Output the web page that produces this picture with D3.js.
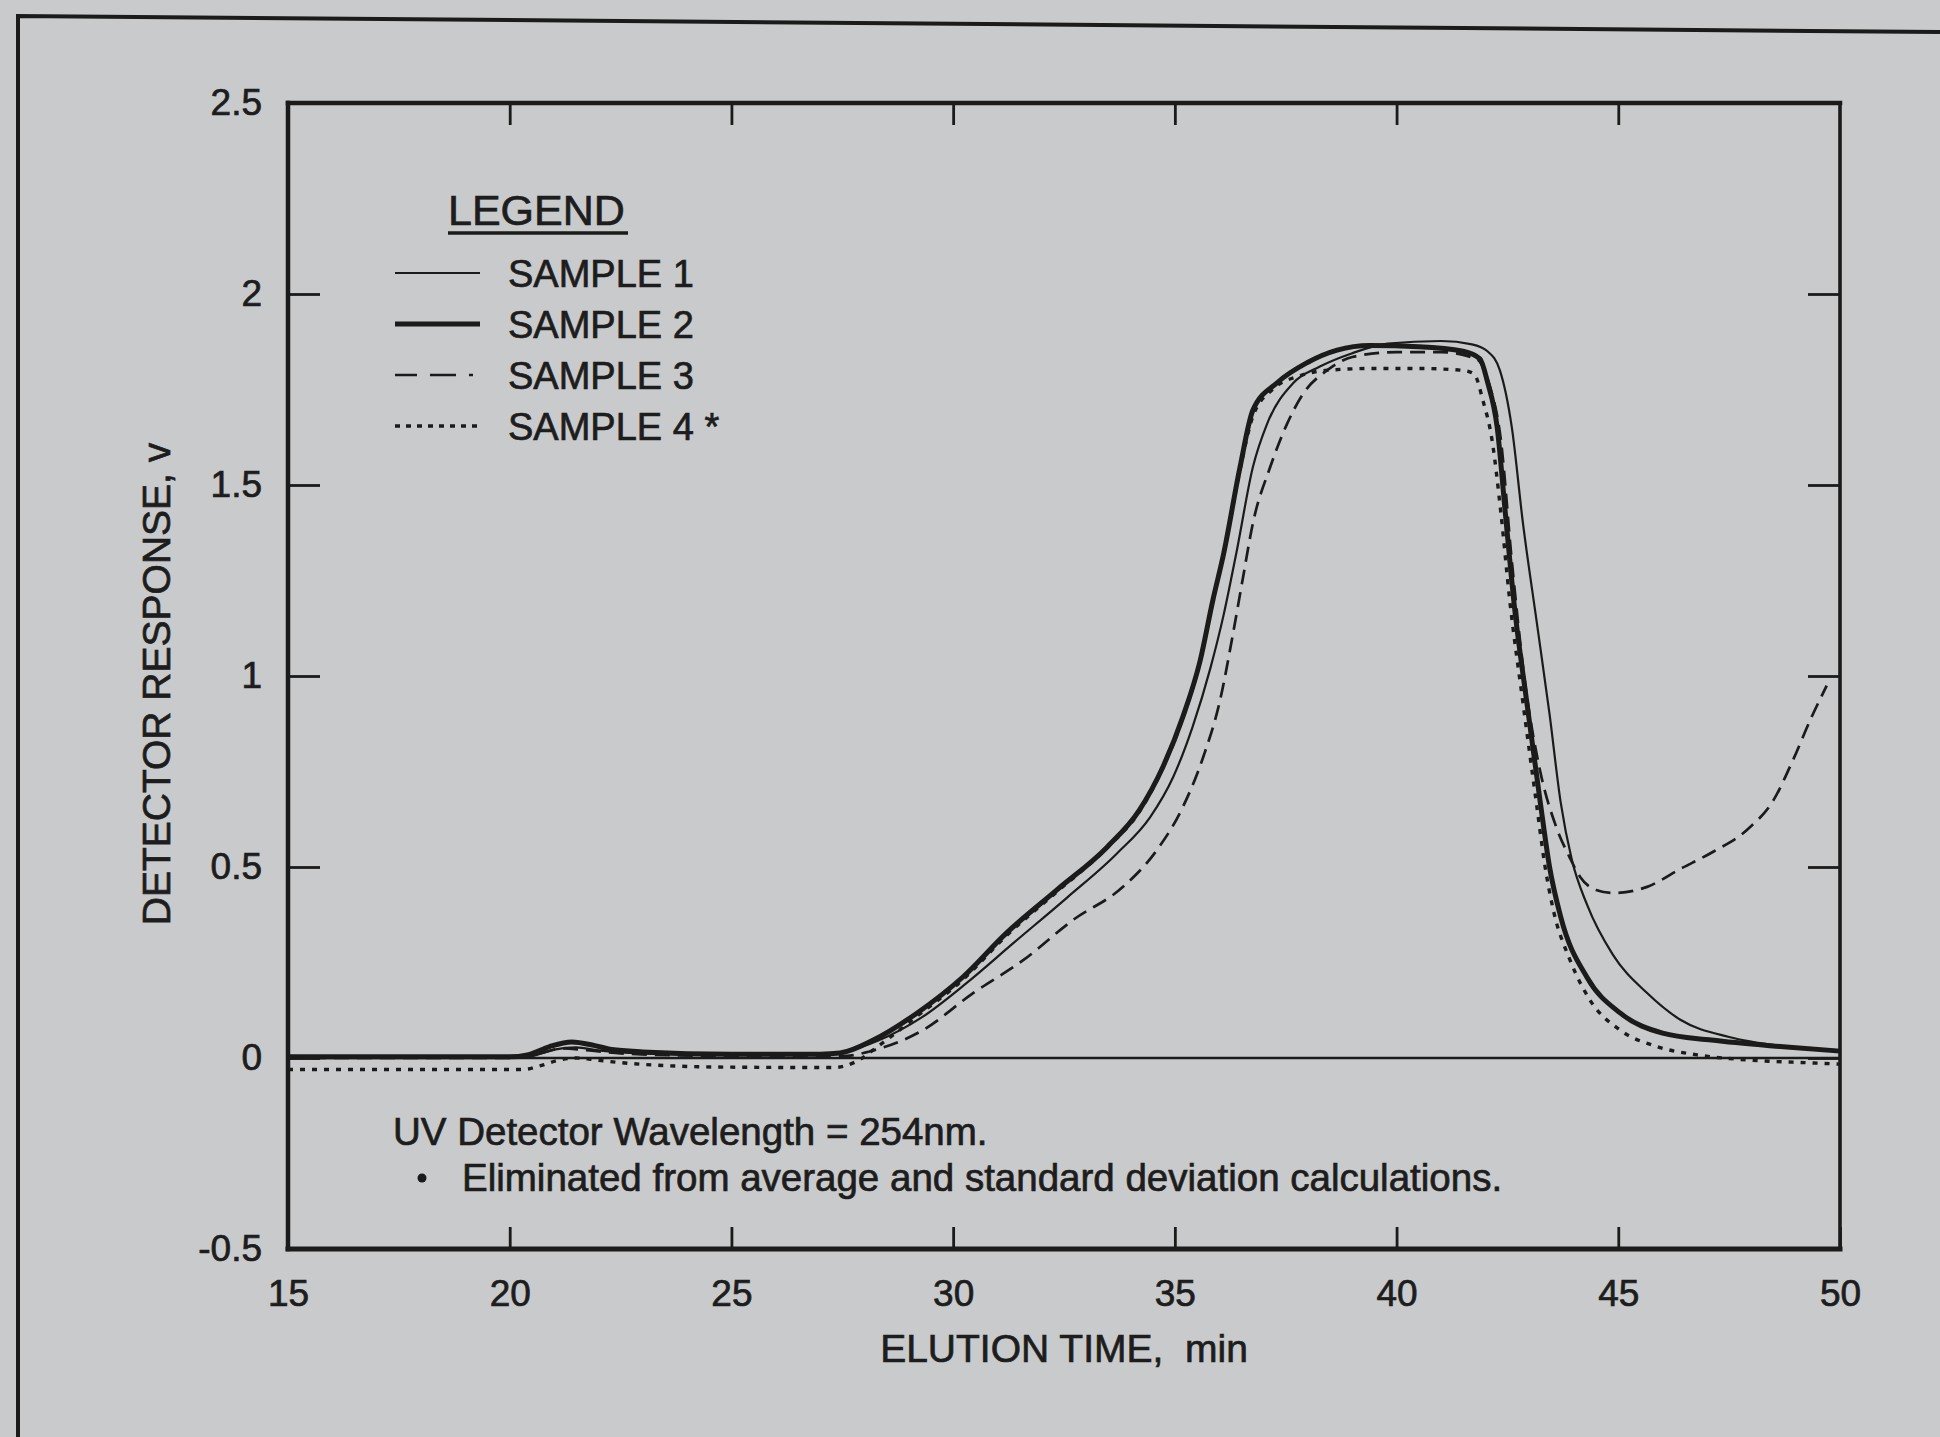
<!DOCTYPE html>
<html>
<head>
<meta charset="utf-8">
<script src="https://cdn.jsdelivr.net/npm/d3@7"></script>
<style>
  html, body { margin: 0; padding: 0; background: #c8cacb; }
  svg { display: block; }
  text { font-family: "Liberation Sans", Arial, Helvetica, sans-serif; fill: #1d1d1d; stroke: #1d1d1d; stroke-width: 0.7px; }
</style>
</head>
<body>
<script>
// elution time (min) / detector response (v)
const sample1Time = [15, 20, 20.5, 21, 21.5, 22, 23, 25, 27, 27.6, 28.3, 29.3, 30.3, 31.35, 32.57, 33.7, 34.44, 34.96, 35.4, 35.8, 36.1, 36.4, 36.76, 37.08, 37.67, 38.27, 39.0, 39.8, 41.0, 41.7, 42.05, 42.33, 42.6, 42.85, 43.15, 43.45, 43.7, 43.95, 44.3, 44.88, 45.65, 46.4, 47.5, 48.65, 50];
const sample1Resp = [0, 0, 0.005, 0.022, 0.028, 0.02, 0.012, 0.008, 0.01, 0.018, 0.045, 0.107, 0.196, 0.30, 0.42, 0.536, 0.63, 0.735, 0.867, 1.02, 1.16, 1.33, 1.547, 1.66, 1.767, 1.81, 1.845, 1.87, 1.877, 1.868, 1.85, 1.80, 1.65, 1.40, 1.15, 0.90, 0.67, 0.52, 0.40, 0.27, 0.17, 0.10, 0.055, 0.032, 0.02];

const sample2Time = [15, 20, 20.4, 20.9, 21.4, 21.9, 22.3, 23, 25, 27, 27.45, 28.2, 29.19, 30.22, 31.2, 32.34, 33.47, 34.2, 34.73, 35.18, 35.57, 35.86, 36.1, 36.47, 36.76, 37.3, 37.98, 38.66, 39.4, 40.5, 41.5, 41.88, 42.05, 42.27, 42.45, 42.65, 42.95, 43.24, 43.45, 43.7, 44.3, 45.04, 46.0, 47.1, 48.65, 50];
const sample2Resp = [0.003, 0.003, 0.008, 0.03, 0.042, 0.033, 0.022, 0.016, 0.01, 0.01, 0.013, 0.047, 0.118, 0.212, 0.327, 0.44, 0.552, 0.649, 0.762, 0.893, 1.04, 1.2, 1.32, 1.547, 1.696, 1.767, 1.82, 1.853, 1.865, 1.862, 1.85, 1.83, 1.77, 1.65, 1.43, 1.19, 0.92, 0.67, 0.50, 0.37, 0.21, 0.118, 0.065, 0.047, 0.03, 0.018];

const sample3Time = [15, 20, 20.6, 21.2, 21.8, 22.5, 25, 27.5, 28.2, 29.32, 30.45, 31.58, 32.7, 33.83, 34.6, 35.18, 35.64, 36.02, 36.31, 36.54, 36.76, 37.15, 37.53, 37.9, 38.43, 39.0, 40.0, 41.0, 41.8, 42.1, 42.35, 42.6, 42.9, 43.24, 43.6, 43.9, 44.14, 44.5, 44.9, 45.65, 46.4, 47.14, 47.9, 48.5, 48.94, 49.33, 49.7];
const sample3Resp = [0, 0, 0.01, 0.025, 0.02, 0.012, 0.005, 0.005, 0.02, 0.073, 0.17, 0.256, 0.361, 0.448, 0.545, 0.657, 0.788, 0.937, 1.11, 1.26, 1.40, 1.547, 1.66, 1.74, 1.80, 1.835, 1.848, 1.848, 1.83, 1.76, 1.62, 1.30, 0.98, 0.75, 0.605, 0.526, 0.474, 0.44, 0.432, 0.448, 0.495, 0.54, 0.597, 0.675, 0.78, 0.885, 0.975];

const sample4Time = [15, 20.3, 20.7, 21.1, 21.5, 22, 22.5, 23.5, 25, 27.3, 27.8, 28.3, 29.19, 30.22, 31.2, 32.34, 33.47, 34.2, 34.73, 35.18, 35.57, 35.86, 36.1, 36.47, 36.76, 37.2, 37.8, 38.4, 39.5, 40.5, 41.5, 41.75, 41.95, 42.15, 42.35, 42.55, 42.85, 43.15, 43.35, 43.53, 43.91, 44.36, 45.04, 45.87, 46.78, 47.9, 49.4, 50];
const sample4Resp = [-0.03, -0.03, -0.02, -0.006, 0.0, -0.006, -0.012, -0.02, -0.024, -0.025, -0.01, 0.03, 0.11, 0.205, 0.32, 0.435, 0.55, 0.645, 0.76, 0.89, 1.04, 1.2, 1.32, 1.54, 1.68, 1.75, 1.785, 1.80, 1.805, 1.805, 1.80, 1.79, 1.72, 1.62, 1.43, 1.20, 0.93, 0.67, 0.50, 0.39, 0.257, 0.152, 0.073, 0.03, 0.008, -0.005, -0.013, -0.016];

const sampleNames = ["SAMPLE 1", "SAMPLE 2", "SAMPLE 3", "SAMPLE 4 *"];

const xTickVals = [15, 20, 25, 30, 35, 40, 45, 50];
const xTickLabels = ["15", "20", "25", "30", "35", "40", "45", "50"];
const yTickVals = [-0.5, 0, 0.5, 1, 1.5, 2, 2.5];
const yTickLabels = ["-0.5", "0", "0.5", "1", "1.5", "2", "2.5"];

const noteLines = ["UV Detector Wavelength = 254nm.", "Eliminated from average and standard deviation calculations."];

// line styles for the four traces
const styles = [
    { width: 2.2, dash: null, legendDash: null },
    { width: 5, dash: null, legendDash: null },
    { width: 2.7, dash: "15,8", legendDash: "22,13,26,13,4,20" },
    { width: 3.4, dash: "5,7", legendDash: "5,6" }
];

const W = 1940, H = 1437;
const ink = "#1b1b1b";

const series = [
    sample1Time.map((t, i) => ({ t: t, v: sample1Resp[i] })),
    sample2Time.map((t, i) => ({ t: t, v: sample2Resp[i] })),
    sample3Time.map((t, i) => ({ t: t, v: sample3Resp[i] })),
    sample4Time.map((t, i) => ({ t: t, v: sample4Resp[i] }))
];

const x = d3.scaleLinear().domain([15, 50]).range([288, 1840]);
const y = d3.scaleLinear().domain([-0.5, 2.5]).range([1249, 103]);

const svg = d3.select("body").append("svg")
    .attr("width", W)
    .attr("height", H);

svg.append("rect").attr("width", W).attr("height", H).attr("fill", "#c8cacb");

// outer frame of the scanned page (left and top edges only)
svg.append("path")
    .attr("d", "M18," + H + " L18,16 L" + W + ",32")
    .attr("fill", "none")
    .attr("stroke", ink)
    .attr("stroke-width", 4);

// axes with inward ticks
const xAxisB = d3.axisBottom(x).tickValues(xTickVals)
    .tickFormat((d, i) => xTickLabels[i]).tickSize(-22).tickPadding(31);
const xAxisT = d3.axisTop(x).tickValues(xTickVals.slice(1, -1))
    .tickFormat("").tickSize(-22);
const yAxisL = d3.axisLeft(y).tickValues(yTickVals)
    .tickFormat((d, i) => yTickLabels[i]).tickSize(-32).tickPadding(26);
const yAxisR = d3.axisRight(y).tickValues(yTickVals.slice(1, -1))
    .tickFormat("").tickSize(-32);

function styleAxis(g) {
    g.select(".domain").remove();
    g.selectAll(".tick line").attr("stroke", ink).attr("stroke-width", 2.8);
    g.selectAll(".tick text")
        .attr("fill", ink)
        .style("font-size", "37px")
        .style("font-family", "'Liberation Sans', Arial, sans-serif");
}

svg.append("g").attr("transform", "translate(0," + y(-0.5) + ")").call(xAxisB).call(styleAxis);
svg.append("g").attr("transform", "translate(0," + y(2.5) + ")").call(xAxisT).call(styleAxis);
svg.append("g").attr("transform", "translate(" + x(15) + ",0)").call(yAxisL).call(styleAxis);
svg.append("g").attr("transform", "translate(" + x(50) + ",0)").call(yAxisR).call(styleAxis);

// plot box
const box = svg.append("g").attr("stroke", ink).attr("stroke-linecap", "square");
box.append("line").attr("x1", x(15)).attr("x2", x(50)).attr("y1", y(2.5)).attr("y2", y(2.5)).attr("stroke-width", 4.5);
box.append("line").attr("x1", x(15)).attr("x2", x(50)).attr("y1", y(-0.5)).attr("y2", y(-0.5)).attr("stroke-width", 5);
box.append("line").attr("x1", x(15)).attr("x2", x(15)).attr("y1", y(2.5)).attr("y2", y(-0.5)).attr("stroke-width", 4.5);
box.append("line").attr("x1", x(50)).attr("x2", x(50)).attr("y1", y(2.5)).attr("y2", y(-0.5)).attr("stroke-width", 3.6);

// zero line
svg.append("line")
    .attr("x1", x(15)).attr("x2", x(50))
    .attr("y1", y(0)).attr("y2", y(0))
    .attr("stroke", ink).attr("stroke-width", 2.4);

// traces
const line = d3.line()
    .x(d => x(d.t))
    .y(d => y(d.v))
    .curve(d3.curveMonotoneX);

svg.append("g").selectAll("path")
    .data(series)
    .join("path")
    .attr("d", line)
    .attr("fill", "none")
    .attr("stroke", ink)
    .attr("stroke-width", (d, i) => styles[i].width)
    .attr("stroke-dasharray", (d, i) => styles[i].dash)
    .attr("stroke-linejoin", "round");

// legend
svg.append("text")
    .attr("x", 448).attr("y", 225)
    .style("font-size", "43px")
    .text("LEGEND");
svg.append("line")
    .attr("x1", 448).attr("x2", 628).attr("y1", 233).attr("y2", 233)
    .attr("stroke", ink).attr("stroke-width", 3.5);

const legendRow = d3.scaleLinear().domain([0, 3]).range([287, 440]);

const leg = svg.append("g").selectAll("g")
    .data(sampleNames)
    .join("g")
    .attr("transform", (d, i) => "translate(0," + legendRow(i) + ")");

leg.append("line")
    .attr("x1", 395).attr("x2", 480)
    .attr("y1", -14).attr("y2", -14)
    .attr("stroke", ink)
    .attr("stroke-width", (d, i) => styles[i].width)
    .attr("stroke-dasharray", (d, i) => styles[i].legendDash);

leg.append("text")
    .attr("x", 508).attr("y", 0)
    .style("font-size", "38px")
    .text(d => d);

// footnotes
svg.append("text")
    .attr("x", 393).attr("y", 1145)
    .style("font-size", "38.5px")
    .text(noteLines[0]);
svg.append("circle")
    .attr("cx", 422).attr("cy", 1178).attr("r", 4.5)
    .attr("fill", ink);
svg.append("text")
    .attr("x", 462).attr("y", 1191)
    .style("font-size", "38.5px")
    .text(noteLines[1]);

// axis titles
svg.append("text")
    .attr("x", x(32.5)).attr("y", 1362)
    .attr("text-anchor", "middle")
    .style("font-size", "39px")
    .style("white-space", "pre")
    .text("ELUTION TIME,  min");

svg.append("text")
    .attr("transform", "translate(170," + 684 + ") rotate(-90)")
    .attr("text-anchor", "middle")
    .style("font-size", "39px")
    .text("DETECTOR RESPONSE, v");
</script>
</body>
</html>
